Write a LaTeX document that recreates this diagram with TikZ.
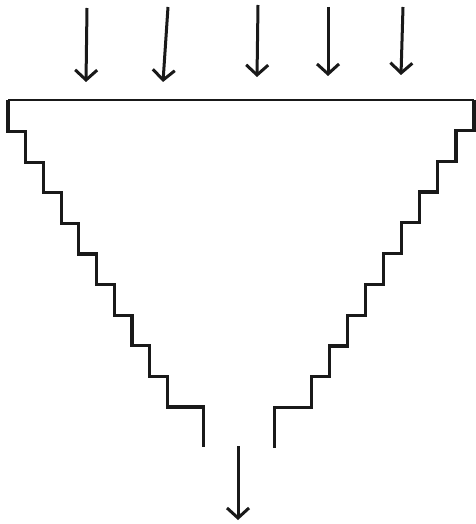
\documentclass[tikz,border=0pt]{standalone}
\usetikzlibrary{arrows.meta}

\begin{document}
\begin{tikzpicture}[
    x=1pt, y=-1pt,
    wall/.style={line width=3.2pt, black!90},
    rim/.style={line width=2.6pt, black!90},
    arr/.style={-{Straight Barb[length=10pt,width=22pt]}, line width=3pt, black!90}
]
\useasboundingbox (0,0) rectangle (475,524);

\coordinate (tl) at (8,100);
\coordinate (tr) at (474,100);

% funnel: rim and the two stepped walls
\draw[rim] (tl) -- (tr);
\draw[wall] (tl) -- ++(0,31.5) foreach \i in {1,...,9} { -- ++(17.7,0) -- ++(0,30.6) } -- ++(36,0) -- ++(0,39.8);
\draw[wall] (tr) -- ++(0,30.3) foreach \i in {1,...,9} { -- ++(-18.1,0) -- ++(0,30.8) } -- ++(-37,0) -- ++(0,40.5);

% incoming arrows
\foreach \n/\xa/\ya/\xb/\yb in {a/87/8/86/82, b/168/7/163/82, c/258/5/257/77, d/328/7/328/76, e/403/7/401/75} {
  \coordinate (in-\n) at (\xa,\ya);
  \coordinate (hit-\n) at (\xb,\yb);
  \draw[arr] (in-\n) -- (hit-\n);
}

% outgoing arrow
\coordinate (spout) at (238,446);
\coordinate (out) at (238,520);
\draw[arr] (spout) -- (out);
\end{tikzpicture}
\end{document}
